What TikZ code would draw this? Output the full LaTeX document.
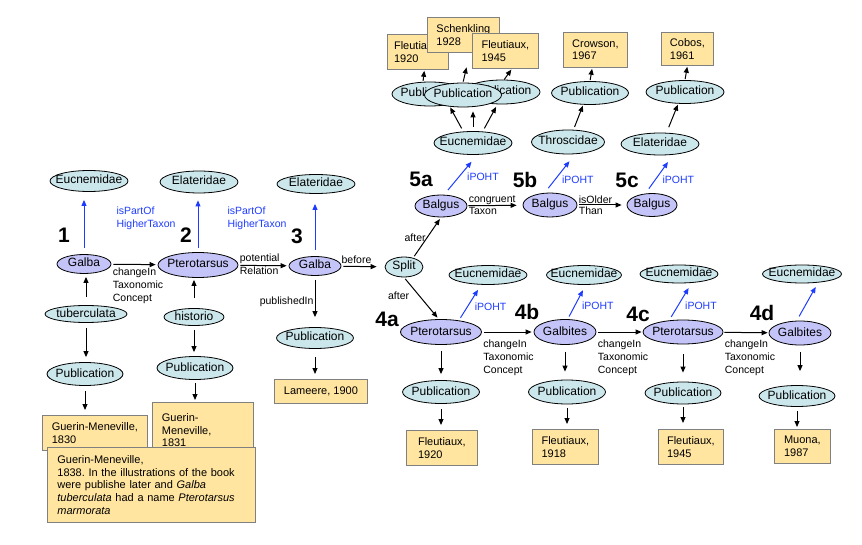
\documentclass[tikz,border=0pt]{standalone}
\usepackage{fontspec}
\setmainfont{Liberation Sans}
\usetikzlibrary{shapes.geometric,arrows.meta}
\frenchspacing

\definecolor{taxonfill}{RGB}{204,231,236}
\definecolor{namefill}{RGB}{196,196,248}
\definecolor{reffill}{RGB}{255,229,160}
\definecolor{refline}{RGB}{128,128,128}
\definecolor{relblue}{RGB}{30,60,255}

\begin{document}
\begin{tikzpicture}[
        x = 1pt,
        y = -1pt,
        oval/.style 2 args={
          ellipse, draw = black, line width = 0.8pt,
          inner xsep = -40pt, inner ysep = -10pt,
          minimum width = #1, minimum height = #2,
          text height = 8.5pt, text depth = 2.5pt,
          font = \fontsize{12}{14}\selectfont,
        },
        entity/.style 2 args={
          oval = {#1}{#2}, fill = taxonfill,
        },
        taxname/.style 2 args={
          oval = {#1}{#2}, fill = namefill,
        },
        refbox/.style={
          draw = refline, fill = reffill, line width = 0.8pt,
          anchor = north west, align = left,
          inner xsep = 0pt, inner ysep = 2pt,
          font = \fontsize{11}{12.6}\selectfont,
        },
        rel/.style={
          inner sep = 1pt, align = left,
          font = \fontsize{10.5}{13}\selectfont,
        },
        bluerel/.style={
          rel, text = relblue,
        },
        stepno/.style={
          inner sep = 0pt,
          font = \fontsize{21}{21}\selectfont\bfseries,
        },
        arr/.style={
          -{Triangle[length=6pt, width=5pt]}, line width = 1pt,
          shorten <=5pt, shorten >=5pt,
        },
        harr/.style={
          arr, shorten <=2pt, shorten >=2pt,
        },
        isa/.style={
          arr, draw = relblue, shorten <=4pt, shorten >=6pt,
        },
        ]
        \useasboundingbox (0,0) rectangle (862,545);

        \node[entity={78pt}{21pt}] (euc1) at (89,181) {Eucnemidae};
        \node[taxname={54pt}{19pt}] (galba1) at (84,264) {Galba};
        \node[entity={82pt}{17pt}] (tuberc1) at (86,314) {tuberculata};
        \node[entity={76pt}{23pt}] (pub1) at (85,374) {Publication};
        \node[stepno] (no1) at (64,235) {1};

        \node[entity={78pt}{22pt}] (elat2) at (199,182) {Elateridae};
        \node[taxname={80pt}{25pt}] (ptero2) at (198,265) {Pterotarsus};
        \node[entity={60pt}{17pt}] (histo2) at (194,317) {historio};
        \node[entity={76pt}{23pt}] (pub2) at (195,368) {Publication};
        \node[stepno] (no2) at (186,235) {2};

        \node[refbox, minimum width = 105pt, minimum height = 35pt] (ref1830) at (42,415) {Guerin-Meneville,\\1830};
        \node[refbox, inner xsep = 9.5pt, text width = 82pt, minimum height = 56pt] (ref1831) at (152,402) {Guerin-\\Meneville,\\1831};
        \node[refbox, inner xsep = 10pt, text width = 188pt, minimum height = 75pt] (ref1838) at (47,447)
          {Guerin-Meneville,\\1838. In the illustrations of the book\\were publishe later and \textit{Galba}\\\textit{tuberculata} had a name \textit{Pterotarsus}\\\textit{marmorata}};

        \node[taxname={52pt}{19pt}] (galba3) at (315,266) {Galba};
        \node[entity={78pt}{19pt}] (elat3) at (316,184) {Elateridae};
        \node[entity={77pt}{21pt}] (pub3) at (315,338) {Publication};
        \node[refbox, minimum width = 93pt, minimum height = 24pt] (ref1900) at (274,379) {Lameere, 1900};
        \node[stepno] (no3) at (297,236) {3};
        \node[entity={38pt}{20pt}] (split) at (404,267) {Split};

        \node[taxname={52pt}{22pt}] (balgus5a) at (441,206) {Balgus};
        \node[entity={78pt}{23pt}] (euc5a) at (473,143) {Eucnemidae};
        \node[entity={76pt}{24pt}] (pub5a1) at (430,94) {Publication};
        \node[entity={76pt}{24pt}] (pub5a3) at (502,92) {Publication};
        \node[entity={77pt}{24pt}] (pub5a2) at (463,95) {Publication};
        \node[refbox, minimum width = 61pt, minimum height = 35pt] (ref5a1) at (387,34) {Fleutiaux,\\1920};
        \node[refbox, minimum width = 72pt, minimum height = 35pt] (ref5a2) at (427,17) {Schenkling\\1928};
        \node[refbox, minimum width = 66pt, minimum height = 35pt] (ref5a3) at (472,33) {Fleutiaux,\\1945};
        \node[stepno] (no5a) at (421,179) {5a};

        \node[taxname={54pt}{24pt}] (balgus5b) at (550,205) {Balgus};
        \node[entity={73pt}{24pt}] (thro5b) at (568,142) {Throscidae};
        \node[entity={77pt}{23pt}] (pub5b) at (590,93) {Publication};
        \node[refbox, minimum width = 64pt, minimum height = 35pt] (ref5b) at (563,32) {Crowson,\\1967};
        \node[stepno] (no5b) at (525,180) {5b};

        \node[taxname={50pt}{23pt}] (balgus5c) at (652,205) {Balgus};
        \node[entity={78pt}{22pt}] (elat5c) at (660,144) {Elateridae};
        \node[entity={78pt}{23pt}] (pub5c) at (685,92) {Publication};
        \node[refbox, minimum width = 52pt, minimum height = 33pt] (ref5c) at (661,32) {Cobos,\\1961};
        \node[stepno] (no5c) at (627,180) {5c};

        \node[taxname={81pt}{25pt}] (ptero4a) at (441,332) {Pterotarsus};
        \node[entity={78pt}{19pt}] (euc4a) at (488,275) {Eucnemidae};
        \node[entity={77pt}{23pt}] (pub4a) at (441,392) {Publication};
        \node[refbox, minimum width = 71pt, minimum height = 35pt] (ref4a) at (406,430) {Fleutiaux,\\1920};
        \node[stepno] (no4a) at (387,319) {4a};

        \node[taxname={62pt}{25pt}] (galb4b) at (565,332) {Galbites};
        \node[entity={75pt}{19pt}] (euc4b) at (584,275) {Eucnemidae};
        \node[entity={77pt}{24pt}] (pub4b) at (567,392) {Publication};
        \node[refbox, minimum width = 66pt, minimum height = 35pt] (ref4b) at (532,429) {Fleutiaux,\\1918};
        \node[stepno] (no4b) at (527,312) {4b};

        \node[taxname={80pt}{24pt}] (ptero4c) at (683,332) {Pterotarsus};
        \node[entity={78pt}{18pt}] (euc4c) at (679,274) {Eucnemidae};
        \node[entity={76pt}{22pt}] (pub4c) at (683,393) {Publication};
        \node[refbox, minimum width = 65pt, minimum height = 35pt] (ref4c) at (658,429) {Fleutiaux,\\1945};
        \node[stepno] (no4c) at (638,314) {4c};

        \node[taxname={62pt}{24pt}] (galb4d) at (800,333) {Galbites};
        \node[entity={79pt}{18pt}] (euc4d) at (802,274) {Eucnemidae};
        \node[entity={76pt}{21pt}] (pub4d) at (797,396) {Publication};
        \node[refbox, minimum width = 56pt, minimum height = 34pt] (ref4d) at (774,429) {Muona,\\1987};
        \node[stepno] (no4d) at (762,313) {4d};

        \draw[isa, shorten <=6pt, shorten >=8pt] (galba1) -- (galba1 |- euc1.south)
          node[bluerel, pos=0.58, right=31pt] {isPartOf\\HigherTaxon};
        \draw[arr, shorten <=8pt, shorten >=3pt] (tuberc1) -- (tuberc1 |- galba1.south);
        \draw[arr] (tuberc1) -- (tuberc1 |- pub1.north);
        \draw[arr] (pub1) -- (pub1 |- ref1830.north);
        \draw[harr] (galba1) -- (ptero2)
          node[rel, pos=0, anchor=north west, yshift=-2pt] {changeIn\\Taxonomic\\Concept};

        \draw[isa, shorten <=4pt, shorten >=7pt] (ptero2) -- (ptero2 |- elat2.south)
          node[bluerel, pos=0.58, right=28pt] {isPartOf\\HigherTaxon};
        \draw[arr, shorten <=10pt, shorten >=2pt] (histo2) -- (histo2 |- ptero2.south);
        \draw[arr, shorten <=4pt, shorten >=4pt] (histo2) -- (histo2 |- pub2.north);
        \draw[arr, shorten <=3pt, shorten >=2pt] (pub2) -- (pub2 |- ref1831.north);
        \draw[harr] (ptero2) -- (galba3)
          node[rel, pos=0, anchor=south west] {potential}
          node[rel, pos=0, anchor=north west] {Relation};

        \draw[isa, shorten <=6pt, shorten >=10pt] (galba3) -- (galba3 |- elat3.south);
        \draw[harr, shorten >=8pt] (galba3) -- (split)
          node[rel, pos=0.35, above=1pt] {before};
        \draw[arr, shorten <=4pt, shorten >=10pt] (galba3) -- (galba3 |- pub3.north)
          node[rel, midway, left] {publishedIn};
        \draw[arr, shorten <=8pt, shorten >=5pt] (pub3) -- (pub3 |- ref1900.north);
        \draw[arr, shorten <=2pt, shorten >=2pt] (split.45) -- (balgus5a.south)
          node[rel, midway, left] {after};
        \draw[arr, shorten <=2pt, shorten >=2pt] (split.south) -- (ptero4a.100)
          node[rel, pos=0.45, left=9pt] {after};

        \draw[isa, shorten <=6pt, shorten >=9pt] (balgus5a.75) -- (euc5a.290)
          node[bluerel, pos=0.44, right=7pt] {iPOHT};
        \draw[harr, shorten <=1pt, shorten >=6pt] (balgus5a) -- (balgus5b)
          node[rel, pos=0, anchor=south west] {congruent}
          node[rel, pos=0, anchor=north west] {Taxon};
        \draw[arr, shorten <=3.5pt, shorten >=3pt] (euc5a.130) -- (pub5a1.330);
        \draw[arr, shorten <=4pt, shorten >=4pt] (euc5a.north) -- (euc5a.north |- pub5a2.south);
        \draw[arr, shorten <=3.5pt, shorten >=3pt] (euc5a.50) -- (pub5a3.250);
        \draw[arr, shorten <=1pt, shorten >=1pt] (pub5a1.120) -- (ref5a1.290);
        \draw[arr, shorten <=1pt, shorten >=15pt] (pub5a2.north) -- (ref5a2.290);
        \draw[arr, shorten <=0pt, shorten >=1pt] (pub5a3.80) -- (ref5a3.290);

        \draw[isa, shorten <=6pt, shorten >=9pt] (balgus5b.114) -- (thro5b.300)
          node[bluerel, pos=0.33, right=6pt] {iPOHT};
        \draw[harr, shorten <=2pt, shorten >=5pt] (balgus5b) -- (balgus5c)
          node[rel, pos=0, anchor=south west] {isOlder}
          node[rel, pos=0, anchor=north west] {Than};
        \draw[arr, shorten <=3pt, shorten >=1pt] (thro5b.66) -- (pub5b.240);
        \draw[arr, shorten <=1pt, shorten >=1pt] (pub5b.north) -- (ref5b.260);

        \draw[isa, shorten <=6pt, shorten >=9pt] (balgus5c.120) -- (elat5c.321)
          node[bluerel, pos=0.35, right=6pt] {iPOHT};
        \draw[arr, shorten <=6pt, shorten >=1pt] (elat5c.60) -- (pub5c.240);
        \draw[arr, shorten <=1pt, shorten >=1pt] (pub5c.north) -- (ref5c.south);

        \draw[isa, shorten <=3pt, shorten >=6pt] (ptero4a.33) -- (euc4a.235)
          node[bluerel, pos=0.38, right=6pt] {iPOHT};
        \draw[arr, shorten <=6pt, shorten >=6pt] (ptero4a) -- (ptero4a |- pub4a.north);
        \draw[arr] (pub4a) -- (pub4a |- ref4a.north);
        \draw[harr] (ptero4a) -- (galb4b)
          node[rel, pos=0, anchor=north west, yshift=-6pt] {changeIn\\Taxonomic\\Concept};

        \draw[isa, shorten <=3pt, shorten >=6pt] (galb4b.78) -- (euc4b.280)
          node[bluerel, pos=0.38, right=6pt] {iPOHT};
        \draw[arr, shorten <=7pt, shorten >=8pt] (galb4b) -- (galb4b |- pub4b.north);
        \draw[arr, shorten <=4pt, shorten >=5pt] (pub4b) -- (pub4b |- ref4b.north);
        \draw[harr, shorten >=1pt] (galb4b) -- (ptero4c)
          node[rel, pos=0, anchor=north west, yshift=-6pt] {changeIn\\Taxonomic\\Concept};

        \draw[isa, shorten <=4pt, shorten >=6pt] (ptero4c.140) -- (euc4c.325)
          node[bluerel, pos=0.38, right=6pt] {iPOHT};
        \draw[arr, shorten <=10pt, shorten >=9pt] (ptero4c) -- (ptero4c |- pub4c.north);
        \draw[arr, shorten <=3pt, shorten >=6pt] (pub4c) -- (pub4c |- ref4c.north);
        \draw[harr, shorten <=1pt, shorten >=1pt] (ptero4c) -- (galb4d)
          node[rel, pos=0, anchor=north west, yshift=-6pt] {changeIn\\Taxonomic\\Concept};

        \draw[isa, shorten <=5pt, shorten >=5pt] (galb4d.105) -- (euc4d.332);
        \draw[arr, shorten <=7pt, shorten >=14pt] (galb4d) -- (galb4d |- pub4d.north);
        \draw[arr, shorten <=4pt, shorten >=2pt] (pub4d) -- (pub4d |- ref4d.north);
\end{tikzpicture}
\end{document}
